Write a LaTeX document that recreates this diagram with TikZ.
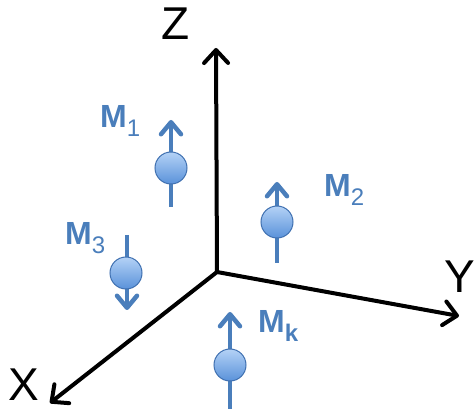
\documentclass[tikz,border=0pt]{standalone}
\usepackage{fontspec}
\setmainfont{Liberation Sans}
\usepackage{xcolor}
\definecolor{spinblue}{HTML}{4A7EBB}
\definecolor{balltop}{HTML}{B4D2F6}
\definecolor{ballbottom}{HTML}{5A92DA}
\definecolor{balledge}{HTML}{3F70B0}
\usetikzlibrary{arrows.meta}

\newcommand\msub[1]{\raisebox{-0.28em}{\fontsize{24}{24}\selectfont\mdseries #1}}

\begin{document}
\begin{tikzpicture}[
  x=1pt, y=-1pt,
  axis/.style={line width=4pt, -{Straight Barb[length=13pt,width=24pt,round]}},
  axislabel/.style={anchor=base west, inner sep=0pt, font=\fontsize{46}{46}\selectfont},
  stem/.style={line width=4.5pt, spinblue},
  stemup/.style={stem, -{Straight Barb[length=12pt,width=20pt,round]}},
  ball/.style={
    circle, minimum size=32pt, inner sep=0pt, draw=balledge, line width=1pt,
    top color=balltop, bottom color=ballbottom
  },
  mlabel/.style={anchor=base west, inner sep=0pt, text=spinblue,
    font=\fontsize{32}{32}\selectfont\bfseries}
]
\useasboundingbox (0,0) rectangle (475,411);

% axes
\coordinate (o) at (217,272);
\coordinate (zend) at (216,48);
\coordinate (yend) at (459,316);
\coordinate (xend) at (50,403);
\draw[axis] (o) -- (zend);
\draw[axis] (o) -- (yend);
\draw[axis] (o) -- (xend);
\node[axislabel] (zlab) at (161,40) {Z};
\node[axislabel] (ylab) at (444,293) {Y};
\node[axislabel] (xlab) at (8,401) {X};

% spin 1
\coordinate (m1tail) at (171,207);
\coordinate (m1head) at (171,120);
\draw[stemup] (m1tail) -- (m1head);
\node[ball] (m1) at (171,168) {};
\node[mlabel] (m1lab) at (100,128) {M\msub{1}};

% spin 2
\coordinate (m2tail) at (277,263);
\coordinate (m2head) at (277,182);
\draw[stemup] (m2tail) -- (m2head);
\node[ball] (m2) at (277,222) {};
\node[mlabel] (m2lab) at (324,197) {M\msub{2}};

% spin 3 (pointing down)
\coordinate (m3tail) at (127,235);
\coordinate (m3head) at (127,310);
\draw[stemup] (m3tail) -- (m3head);
\node[ball] (m3) at (126,273) {};
\node[mlabel] (m3lab) at (65,245) {M\msub{3}};

% spin k
\coordinate (mktail) at (230,409);
\coordinate (mkhead) at (230,312);
\draw[stemup] (mktail) -- (mkhead);
\node[ball] (mk) at (230,365) {};
\node[mlabel] (mklab) at (258,333) {M\msub{\bfseries k}};

\end{tikzpicture}
\end{document}
